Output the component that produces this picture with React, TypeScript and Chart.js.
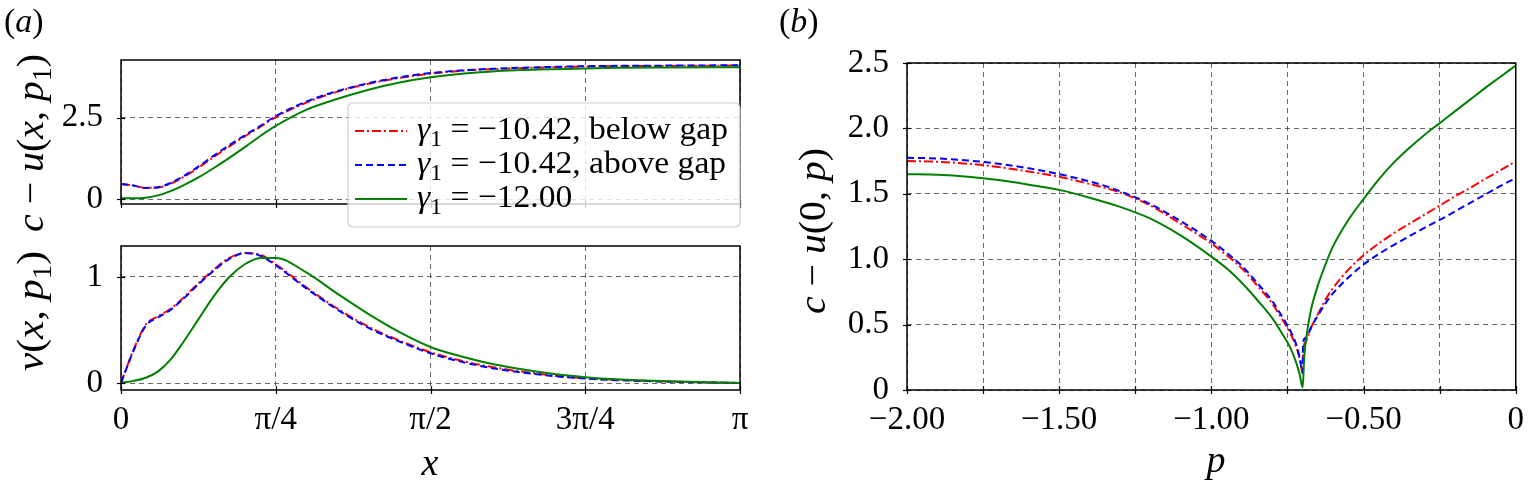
import React, { useEffect, useRef } from 'react';
import Chart from 'chart.js/auto';

const SERIF = '"Liberation Serif", "Times New Roman", serif';

// panel (a): x along the period, in units of pi
const xFrac = [0, 0.02, 0.04, 0.06, 0.08, 0.1, 0.125, 0.15, 0.175, 0.2, 0.225, 0.25, 0.3, 0.35, 0.4, 0.45, 0.5, 0.55, 0.6, 0.7, 0.75, 0.8, 0.9, 1.0];

// c - u(x, p1)
const cuBelow = [0.47, 0.42, 0.35, 0.36, 0.48, 0.67, 0.97, 1.3, 1.62, 1.93, 2.22, 2.52, 2.97, 3.3, 3.54, 3.72, 3.85, 3.94, 3.99, 4.05, 4.07, 4.08, 4.09, 4.1];
const cuAbove = [0.47, 0.42, 0.35, 0.37, 0.5, 0.7, 1.0, 1.34, 1.66, 1.96, 2.25, 2.55, 3.0, 3.32, 3.56, 3.74, 3.87, 3.95, 4.0, 4.06, 4.08, 4.09, 4.1, 4.11];
const cuTwelve = [0.03, 0.03, 0.05, 0.12, 0.25, 0.42, 0.67, 0.96, 1.27, 1.6, 1.94, 2.25, 2.75, 3.08, 3.36, 3.58, 3.74, 3.85, 3.92, 3.99, 4.01, 4.03, 4.04, 4.05];

// v(x, p1)
const vBelow = [0, 0.31, 0.55, 0.63, 0.7, 0.8, 0.94, 1.07, 1.18, 1.225, 1.21, 1.12, 0.9, 0.7, 0.53, 0.4, 0.29, 0.21, 0.15, 0.07, 0.045, 0.03, 0.012, 0];
const vAbove = [0, 0.3, 0.54, 0.62, 0.69, 0.79, 0.93, 1.06, 1.17, 1.225, 1.2, 1.11, 0.89, 0.69, 0.52, 0.39, 0.28, 0.2, 0.14, 0.065, 0.042, 0.027, 0.01, 0];
const vTwelve = [0, 0.02, 0.05, 0.11, 0.22, 0.38, 0.6, 0.82, 1.0, 1.12, 1.18, 1.18, 1.04, 0.84, 0.65, 0.48, 0.34, 0.25, 0.18, 0.085, 0.055, 0.035, 0.014, 0];

// panel (b): c - u(0, p), left branch shared p values
const pLeft = [-2, -1.9, -1.8, -1.7, -1.6, -1.5, -1.4, -1.3, -1.2, -1.1, -1.0, -0.95, -0.9, -0.85, -0.8, -0.77, -0.74, -0.72, -0.71, -0.7];
const bBelowLeft = [1.75, 1.745, 1.73, 1.705, 1.67, 1.63, 1.575, 1.51, 1.41, 1.27, 1.12, 1.03, 0.93, 0.8, 0.66, 0.55, 0.43, 0.32, 0.24, 0.13];
const bAboveLeft = [1.775, 1.77, 1.755, 1.73, 1.695, 1.65, 1.595, 1.52, 1.42, 1.29, 1.14, 1.05, 0.95, 0.82, 0.68, 0.57, 0.45, 0.34, 0.25, 0.13];
const bTwelveLeft = [1.65, 1.645, 1.63, 1.605, 1.57, 1.53, 1.47, 1.4, 1.31, 1.18, 1.02, 0.93, 0.82, 0.69, 0.55, 0.44, 0.32, 0.2, 0.12, 0.02];

const pRightGap = [-0.699, -0.69, -0.67, -0.65, -0.62, -0.6, -0.55, -0.5, -0.45, -0.4, -0.35, -0.3, -0.25, -0.2, -0.15, -0.1, -0.05, 0];
const bBelowRight = [0.27, 0.37, 0.49, 0.58, 0.71, 0.78, 0.92, 1.03, 1.12, 1.2, 1.27, 1.34, 1.41, 1.48, 1.545, 1.615, 1.68, 1.75];
const bAboveRight = [0.36, 0.4, 0.49, 0.57, 0.68, 0.74, 0.86, 0.96, 1.04, 1.11, 1.175, 1.24, 1.3, 1.365, 1.43, 1.495, 1.56, 1.62];
const pRightTwelve = [-0.695, -0.685, -0.673, -0.65, -0.62, -0.6, -0.55, -0.5, -0.45, -0.4, -0.35, -0.3, -0.25, -0.2, -0.15, -0.1, -0.05, 0];
const bTwelveRight = [0.25, 0.45, 0.61, 0.8, 0.99, 1.1, 1.3, 1.46, 1.61, 1.74, 1.85, 1.95, 2.04, 2.13, 2.22, 2.31, 2.395, 2.48];

// ticks
const piTicks = [0, 0.25, 0.5, 0.75, 1];
const piTickLabels = ['0', 'π/4', 'π/2', '3π/4', 'π'];
const cuTicks = [0, 2.5];
const cuTickLabels = ['0', '2.5'];
const vTicks = [0, 1];
const vTickLabels = ['0', '1'];
const pTicks = [-2, -1.75, -1.5, -1.25, -1, -0.75, -0.5, -0.25, 0];
const pTickLabels = ['−2.00', '', '−1.50', '', '−1.00', '', '−0.50', '', '0'];
const bTicks = [0, 0.5, 1, 1.5, 2, 2.5];
const bTickLabels = ['0', '0.5', '1.0', '1.5', '2.0', '2.5'];

const legendRest = [' = −10.42, below gap', ' = −10.42, above gap', ' = −12.00'];

const RED = '#ff0000';
const BLUE = '#0000ff';
const GREEN = '#008000';
const DASHDOT = [9, 3, 2, 3];
const DASHED = [7, 4];

type Seg = { t: string; it?: boolean; sub?: boolean };

const fontOf = (size: number, it?: boolean) => `${it ? 'italic ' : ''}${size}px ${SERIF}`;

function measureRich(ctx: CanvasRenderingContext2D, segs: Seg[], size: number) {
  return segs.map((s) => {
    ctx.font = fontOf(s.sub ? size * 0.7 : size, s.it);
    return ctx.measureText(s.t).width;
  });
}

function drawRich(
  ctx: CanvasRenderingContext2D,
  segs: Seg[],
  x: number,
  y: number,
  size: number,
  vertical: boolean,
  align: 'left' | 'center',
  sx = 1
) {
  const widths = measureRich(ctx, segs, size);
  const total = widths.reduce((a, b) => a + b, 0);
  ctx.save();
  ctx.translate(x, y);
  if (vertical) ctx.rotate(-Math.PI / 2);
  ctx.scale(sx, 1);
  ctx.textBaseline = 'alphabetic';
  ctx.textAlign = 'left';
  ctx.fillStyle = '#000';
  let cx = align === 'center' ? -total / 2 : 0;
  segs.forEach((s, i) => {
    ctx.font = fontOf(s.sub ? size * 0.7 : size, s.it);
    ctx.fillText(s.t, cx, s.sub ? size * 0.22 : 0);
    cx += widths[i];
  });
  ctx.restore();
}

// rotated label stretched to a given length
function drawAxisLabel(ctx: CanvasRenderingContext2D, segs: Seg[], x: number, y: number, size: number, length: number) {
  const total = measureRich(ctx, segs, size).reduce((a, b) => a + b, 0);
  drawRich(ctx, segs, x, y, size, true, 'center', length / total);
}

const yLabelA: Seg[] = [
  { t: 'c', it: true }, { t: ' − ' }, { t: 'u', it: true }, { t: '(' }, { t: 'x', it: true },
  { t: ', ' }, { t: 'p', it: true }, { t: '1', sub: true }, { t: ')' },
];
const yLabelV: Seg[] = [
  { t: 'v', it: true }, { t: '(' }, { t: 'x', it: true }, { t: ', ' }, { t: 'p', it: true },
  { t: '1', sub: true }, { t: ')' },
];
const yLabelB: Seg[] = [
  { t: 'c', it: true }, { t: ' − ' }, { t: 'u', it: true }, { t: '(0, ' }, { t: 'p', it: true }, { t: ')' },
];

const decoPlugin = (draw: (ctx: CanvasRenderingContext2D) => void) => ({
  id: 'deco',
  afterDraw(chart: Chart) {
    const ctx = chart.ctx;
    const a = chart.chartArea;
    ctx.save();
    // tick marks crossing the spines
    ctx.strokeStyle = '#000';
    ctx.lineWidth = 1.2;
    const xs = chart.scales.x;
    const ys = chart.scales.y;
    xs.ticks.forEach((t) => {
      const px = Math.round(xs.getPixelForValue(t.value)) + 0.5;
      ctx.beginPath();
      ctx.moveTo(px, a.bottom - 4);
      ctx.lineTo(px, a.bottom + 4);
      ctx.stroke();
    });
    ys.ticks.forEach((t) => {
      const py = Math.round(ys.getPixelForValue(t.value)) + 0.5;
      ctx.beginPath();
      ctx.moveTo(a.left - 4, py);
      ctx.lineTo(a.left + 4, py);
      ctx.stroke();
    });
    // frame
    ctx.lineWidth = 1.5;
    ctx.strokeRect(a.left, a.top, a.right - a.left, a.bottom - a.top);
    ctx.restore();
    draw(ctx);
  },
});

const Y_BOX = 100;
const X_BOX = 80;
const TICK_SIZE = 33;

function axis(
  min: number,
  max: number,
  tickVals: number[],
  labels: string[] | null,
  pad: number,
  isX: boolean
) {
  return {
    type: 'linear' as const,
    min,
    max,
    afterBuildTicks: (s: any) => {
      s.ticks = tickVals.map((v) => ({ value: v }));
    },
    afterFit: (s: any) => {
      if (isX) s.height = X_BOX;
      else s.width = Y_BOX;
    },
    grid: { color: 'rgba(70,70,70,0.8)', lineWidth: 1, drawTicks: false },
    border: { display: false, dash: [5, 4] },
    ticks: {
      display: labels !== null,
      padding: pad,
      color: '#000',
      autoSkip: false,
      maxRotation: 0,
      font: { family: SERIF, size: TICK_SIZE },
      callback: (_v: any, i: number) => (labels ? labels[i] : ''),
    },
  };
}

function lineSet(label: string, pts: { x: number; y: number }[], color: string, dash: number[], order: number) {
  return {
    label,
    data: pts,
    borderColor: color,
    borderWidth: 2,
    borderDash: dash,
    pointRadius: 0,
    cubicInterpolationMode: 'monotone' as const,
    order,
  };
}

const zip = (xs: number[], ys: number[], k = 1) => xs.map((x, i) => ({ x: x * k, y: ys[i] }));

function drawLegend(ctx: CanvasRenderingContext2D) {
  const l = 348, t = 103, r = 740, b = 227;
  ctx.save();
  ctx.beginPath();
  ctx.roundRect(l, t, r - l, b - t, 5);
  ctx.fillStyle = 'rgba(255,255,255,0.8)';
  ctx.fill();
  ctx.strokeStyle = '#cccccc';
  ctx.lineWidth = 1.2;
  ctx.stroke();
  const rows = [131, 165, 199];
  const styles = [
    { c: RED, d: DASHDOT },
    { c: BLUE, d: DASHED },
    { c: GREEN, d: [] as number[] },
  ];
  const size = 32;
  const segsFor = (i: number): Seg[] => [{ t: 'γ', it: true }, { t: '1', sub: true }, { t: legendRest[i] }];
  const w0 = measureRich(ctx, segsFor(0), size).reduce((a, c) => a + c, 0);
  const sx = 311 / w0;
  rows.forEach((ry, i) => {
    ctx.beginPath();
    ctx.setLineDash(styles[i].d);
    ctx.strokeStyle = styles[i].c;
    ctx.lineWidth = 2;
    ctx.moveTo(355, ry);
    ctx.lineTo(407, ry);
    ctx.stroke();
    ctx.setLineDash([]);
    drawRich(ctx, segsFor(i), 417, ry + 8, size, false, 'left', sx);
  });
  ctx.restore();
}

function useChart(ref: React.RefObject<HTMLCanvasElement | null>, build: () => any) {
  useEffect(() => {
    if (!ref.current) return;
    const chart = new Chart(ref.current, build());
    return () => chart.destroy();
  }, []);
}

// l, t, r, b: plot rectangle in page pixels
const baseOptions = (l: number, t: number, r: number, b: number) => ({
  animation: false,
  responsive: true,
  maintainAspectRatio: false,
  events: [],
  layout: { autoPadding: false, padding: { left: l - Y_BOX, top: t, right: 1535 - r, bottom: 488 - b - X_BOX } },
  plugins: { legend: { display: false }, tooltip: { enabled: false } },
});

export default function App() {
  const topRef = useRef<HTMLCanvasElement>(null);
  const botRef = useRef<HTMLCanvasElement>(null);
  const rightRef = useRef<HTMLCanvasElement>(null);

  useChart(topRef, () => ({
    type: 'line',
    data: {
      datasets: [
        lineSet('γ1 = −10.42, below gap', zip(xFrac, cuBelow, Math.PI), RED, DASHDOT, 3),
        lineSet('γ1 = −10.42, above gap', zip(xFrac, cuAbove, Math.PI), BLUE, DASHED, 2),
        lineSet('γ1 = −12.00', zip(xFrac, cuTwelve, Math.PI), GREEN, [], 1),
      ],
    },
    options: {
      ...baseOptions(121, 60, 740, 204),
      scales: {
        x: axis(0, Math.PI, piTicks.map((v) => v * Math.PI), null, 11, true),
        y: axis(-0.144, 4.27, cuTicks, cuTickLabels, 18, false),
      },
    },
    plugins: [
      decoPlugin((ctx) => {
        drawRich(ctx, [{ t: '(' }, { t: 'a', it: true }, { t: ')' }], 4, 32, 34, false, 'left');
        drawAxisLabel(ctx, yLabelA, 43, 143, 38, 178);
        drawLegend(ctx);
      }),
    ],
  }));

  useChart(botRef, () => ({
    type: 'line',
    data: {
      datasets: [
        lineSet('below', zip(xFrac, vBelow, Math.PI), RED, DASHDOT, 3),
        lineSet('above', zip(xFrac, vAbove, Math.PI), BLUE, DASHED, 2),
        lineSet('twelve', zip(xFrac, vTwelve, Math.PI), GREEN, [], 1),
      ],
    },
    options: {
      ...baseOptions(121, 246, 740, 390),
      scales: {
        x: axis(0, Math.PI, piTicks.map((v) => v * Math.PI), piTickLabels, 11, true),
        y: axis(-0.066, 1.292, vTicks, vTickLabels, 18, false),
      },
    },
    plugins: [
      decoPlugin((ctx) => {
        drawAxisLabel(ctx, yLabelV, 43, 311, 38, 120);
        drawRich(ctx, [{ t: 'x', it: true }], 430, 475, 38, false, 'center');
      }),
    ],
  }));

  useChart(rightRef, () => ({
    type: 'line',
    data: {
      datasets: [
        lineSet('below', [...zip(pLeft, bBelowLeft), ...zip(pRightGap, bBelowRight)], RED, DASHDOT, 3),
        lineSet('above', [...zip(pLeft, bAboveLeft), ...zip(pRightGap, bAboveRight)], BLUE, DASHED, 2),
        lineSet('twelve', [...zip(pLeft, bTwelveLeft), ...zip(pRightTwelve, bTwelveRight)], GREEN, [], 1),
      ],
    },
    options: {
      ...baseOptions(907, 63, 1525, 390),
      scales: {
        x: axis(-2, 0, pTicks, pTickLabels, 11, true),
        y: axis(0, 2.5, bTicks, bTickLabels, 18, false),
      },
    },
    plugins: [
      decoPlugin((ctx) => {
        drawRich(ctx, [{ t: '(' }, { t: 'b', it: true }, { t: ')' }], 779, 32, 34, false, 'left');
        drawAxisLabel(ctx, yLabelB, 825, 231, 38, 166);
        drawRich(ctx, [{ t: 'p', it: true }], 1216, 472, 38, false, 'center');
      }),
    ],
  }));

  const layer: React.CSSProperties = { position: 'absolute', left: 0, top: 0, width: 1535, height: 488 };
  return (
    <div style={{ position: 'absolute', left: 0, top: 0, width: 1535, height: 488, background: '#fff' }}>
      <div style={layer}><canvas ref={topRef} /></div>
      <div style={layer}><canvas ref={botRef} /></div>
      <div style={layer}><canvas ref={rightRef} /></div>
    </div>
  );
}
